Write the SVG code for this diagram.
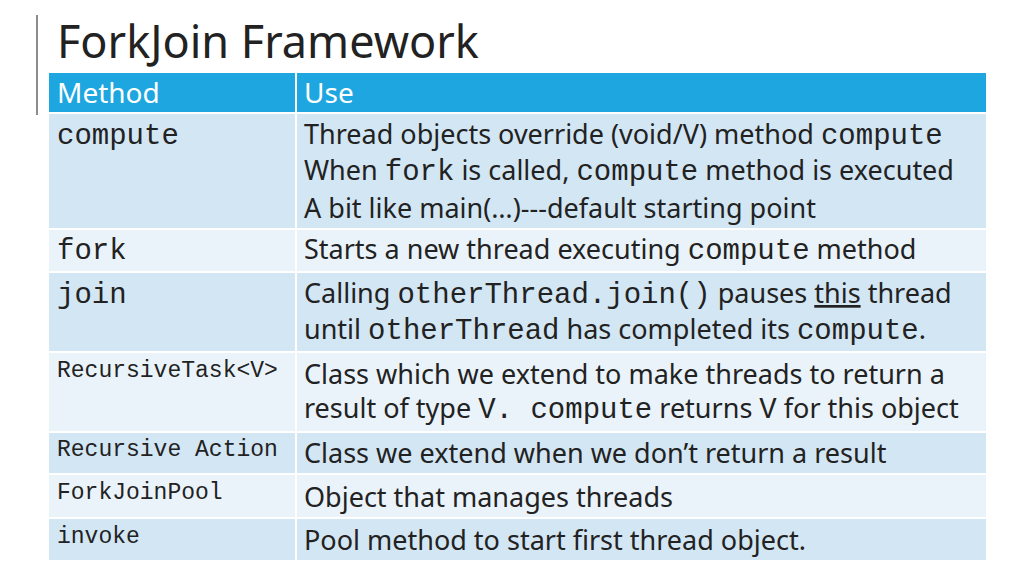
<svg xmlns="http://www.w3.org/2000/svg" width="1024" height="576" viewBox="0 0 1024 576">
<style>
.t{font-family:"Noto Sans","Open Sans",sans-serif;font-size:27px;fill:#222}
.m{font-family:"Liberation Mono",monospace;font-size:29px;fill:#222}
.s{font-family:"Liberation Mono",monospace;font-size:23px;fill:#222}
.h{font-family:"Noto Sans",sans-serif;font-size:28px;fill:#fff}
.a{fill:#d3e6f4}.b{fill:#eaf3fa}
</style>
<rect width="1024" height="576" fill="#fff"/>
<line x1="37" y1="15" x2="37" y2="115" stroke="#8c8c8c" stroke-width="2"/>
<text x="57" y="58" font-family="Noto Sans,sans-serif" font-size="45" fill="#222">ForkJoin Framework</text>
<g id="table" stroke="#fff" stroke-width="2">
<rect x="48" y="72" width="939" height="41" fill="#1ea6e0"/>
<rect class="a" x="48" y="113" width="939" height="116"/>
<rect class="b" x="48" y="229" width="939" height="43"/>
<rect class="a" x="48" y="272" width="939" height="80"/>
<rect class="b" x="48" y="352" width="939" height="80"/>
<rect class="a" x="48" y="432" width="939" height="42"/>
<rect class="b" x="48" y="474" width="939" height="44"/>
<rect class="a" x="48" y="518" width="939" height="43"/>
<line x1="296" y1="72" x2="296" y2="561"/>
</g>
<g id="header"><text class="h" x="57" y="103">Method</text><text class="h" x="304" y="103">Use</text></g>
<g id="compute"><text class="m" x="57" y="144">compute</text>
<text class="t" x="304" y="144">Thread objects override (void/V) method <tspan class="m">compute</tspan></text>
<text class="t" x="304" y="180">When <tspan class="m">fork</tspan> is called, <tspan class="m">compute</tspan> method is executed</text>
<text class="t" x="304" y="218">A bit like main(…)---default starting point</text></g>
<g id="fork"><text class="m" x="57" y="259">fork</text>
<text class="t" x="304" y="259">Starts a new thread executing <tspan class="m">compute</tspan> method</text></g>
<g id="join"><text class="m" x="57" y="303">join</text>
<text class="t" x="304" y="303">Calling <tspan class="m">otherThread.join()</tspan> pauses <tspan text-decoration="underline">this</tspan> thread</text>
<text class="t" x="304" y="339">until <tspan class="m">otherThread</tspan> has completed its <tspan class="m">compute</tspan>.</text></g>
<g id="rtask"><text class="s" x="57" y="377">RecursiveTask&lt;V&gt;</text>
<text class="t" x="304" y="384">Class which we extend to make threads to return a</text>
<text class="t" x="304" y="418">result of type <tspan class="m">V. compute</tspan> returns <tspan class="m">V</tspan> for this object</text></g>
<g id="raction"><text class="s" x="57" y="456">Recursive Action</text>
<text class="t" x="304" y="463">Class we extend when we don’t return a result</text></g>
<g id="pool"><text class="s" x="57" y="499">ForkJoinPool</text>
<text class="t" x="304" y="507">Object that manages threads</text></g>
<g id="invoke"><text class="s" x="57" y="543">invoke</text>
<text class="t" x="304" y="550">Pool method to start first thread object.</text></g>
</svg>
